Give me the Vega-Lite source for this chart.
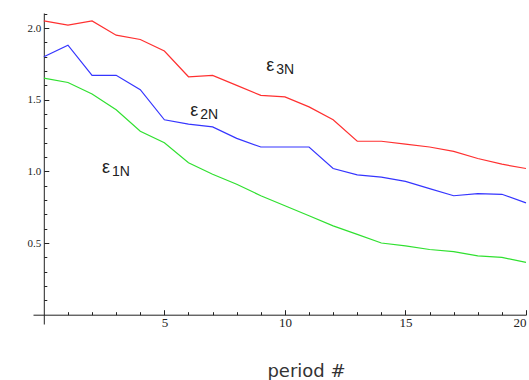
{
  "$schema": "https://vega.github.io/schema/vega-lite/v6.json",
  "width": 493,
  "height": 311,
  "autosize": {"type": "none"},
  "padding": {"left": 33, "top": 13, "right": 3, "bottom": 56},
  "background": "white",
  "config": {"view": {"stroke": null}, "axis": {"grid": false}},
  "resolve": {"axis": {"x": "independent", "y": "independent"}},
  "layer": [
    {
      "data": {"values": [
        {"period": 0, "eps": 2.05, "series": "e3"},
        {"period": 1, "eps": 2.02, "series": "e3"},
        {"period": 2, "eps": 2.05, "series": "e3"},
        {"period": 3, "eps": 1.95, "series": "e3"},
        {"period": 4, "eps": 1.92, "series": "e3"},
        {"period": 5, "eps": 1.84, "series": "e3"},
        {"period": 6, "eps": 1.66, "series": "e3"},
        {"period": 7, "eps": 1.67, "series": "e3"},
        {"period": 8, "eps": 1.6, "series": "e3"},
        {"period": 9, "eps": 1.53, "series": "e3"},
        {"period": 10, "eps": 1.52, "series": "e3"},
        {"period": 11, "eps": 1.45, "series": "e3"},
        {"period": 12, "eps": 1.36, "series": "e3"},
        {"period": 13, "eps": 1.21, "series": "e3"},
        {"period": 14, "eps": 1.21, "series": "e3"},
        {"period": 15, "eps": 1.19, "series": "e3"},
        {"period": 16, "eps": 1.17, "series": "e3"},
        {"period": 17, "eps": 1.14, "series": "e3"},
        {"period": 18, "eps": 1.09, "series": "e3"},
        {"period": 19, "eps": 1.05, "series": "e3"},
        {"period": 20, "eps": 1.02, "series": "e3"},
        {"period": 0, "eps": 1.8, "series": "e2"},
        {"period": 1, "eps": 1.88, "series": "e2"},
        {"period": 2, "eps": 1.67, "series": "e2"},
        {"period": 3, "eps": 1.67, "series": "e2"},
        {"period": 4, "eps": 1.57, "series": "e2"},
        {"period": 5, "eps": 1.36, "series": "e2"},
        {"period": 6, "eps": 1.33, "series": "e2"},
        {"period": 7, "eps": 1.31, "series": "e2"},
        {"period": 8, "eps": 1.23, "series": "e2"},
        {"period": 9, "eps": 1.17, "series": "e2"},
        {"period": 10, "eps": 1.17, "series": "e2"},
        {"period": 11, "eps": 1.17, "series": "e2"},
        {"period": 12, "eps": 1.02, "series": "e2"},
        {"period": 13, "eps": 0.975, "series": "e2"},
        {"period": 14, "eps": 0.96, "series": "e2"},
        {"period": 15, "eps": 0.93, "series": "e2"},
        {"period": 16, "eps": 0.88, "series": "e2"},
        {"period": 17, "eps": 0.83, "series": "e2"},
        {"period": 18, "eps": 0.845, "series": "e2"},
        {"period": 19, "eps": 0.84, "series": "e2"},
        {"period": 20, "eps": 0.78, "series": "e2"},
        {"period": 0, "eps": 1.65, "series": "e1"},
        {"period": 1, "eps": 1.62, "series": "e1"},
        {"period": 2, "eps": 1.54, "series": "e1"},
        {"period": 3, "eps": 1.43, "series": "e1"},
        {"period": 4, "eps": 1.28, "series": "e1"},
        {"period": 5, "eps": 1.2, "series": "e1"},
        {"period": 6, "eps": 1.06, "series": "e1"},
        {"period": 7, "eps": 0.98, "series": "e1"},
        {"period": 8, "eps": 0.91, "series": "e1"},
        {"period": 9, "eps": 0.83, "series": "e1"},
        {"period": 10, "eps": 0.76, "series": "e1"},
        {"period": 11, "eps": 0.69, "series": "e1"},
        {"period": 12, "eps": 0.62, "series": "e1"},
        {"period": 13, "eps": 0.56, "series": "e1"},
        {"period": 14, "eps": 0.5, "series": "e1"},
        {"period": 15, "eps": 0.48, "series": "e1"},
        {"period": 16, "eps": 0.455, "series": "e1"},
        {"period": 17, "eps": 0.44, "series": "e1"},
        {"period": 18, "eps": 0.41, "series": "e1"},
        {"period": 19, "eps": 0.4, "series": "e1"},
        {"period": 20, "eps": 0.365, "series": "e1"}
      ]},
      "mark": {"type": "line", "strokeWidth": 1.2},
      "encoding": {
        "x": {"field": "period", "type": "quantitative",
          "scale": {"domain": [-0.45, 20], "nice": false, "zero": false},
          "axis": {"orient": "bottom", "offset": -9.3, "values": [1,2,3,4,6,7,8,9,11,12,13,14,16,17,18,19],
            "tickSize": -3, "tickColor": "#222", "labels": false, "domain": false, "title": null}},
        "y": {"field": "eps", "type": "quantitative",
          "scale": {"domain": [-0.065, 2.105], "nice": false, "zero": false},
          "axis": {"orient": "left", "offset": -10.8, "values": [0.1,0.2,0.3,0.4,0.6,0.7,0.8,0.9,1.1,1.2,1.3,1.4,1.6,1.7,1.8,1.9,2.1],
            "tickSize": -3, "tickColor": "#222", "labels": false, "domain": false, "title": null}},
        "color": {"field": "series", "type": "nominal",
          "scale": {"domain": ["e1", "e2", "e3"], "range": ["#30e030", "#3535ff", "#ff3030"]},
          "legend": null}
      }
    },
    {
      "data": {"name": "labels", "values": [
        {"x": 9.39, "y": 1.738, "sym": "ε", "sub": "3N"},
        {"x": 6.24, "y": 1.424, "sym": "ε", "sub": "2N"},
        {"x": 2.58, "y": 1.026, "sym": "ε", "sub": "1N"}
      ]},
      "mark": {"type": "text", "fontSize": 18, "font": "Liberation Sans", "align": "center", "baseline": "middle", "color": "#222"},
      "encoding": {
        "x": {"field": "x", "type": "quantitative",
          "scale": {"domain": [-0.45, 20], "nice": false, "zero": false},
          "axis": {"orient": "bottom", "offset": -9.3, "values": [5, 10, 15, 20], "tickSize": -5, "tickColor": "#222",
            "domainColor": "#222", "labelFont": "Liberation Serif", "labelFontSize": 13, "labelColor": "#222",
            "labelPadding": 7, "labelBaseline": "top", "title": "period #", "titleFont": "DejaVu Sans", "titleFontSize": 18,
            "titleFontWeight": "normal", "titleColor": "#333", "titleX": 273, "titleY": 62, "titleAlign": "center",
            "titleBaseline": "alphabetic"}},
        "y": {"field": "y", "type": "quantitative",
          "scale": {"domain": [-0.065, 2.105], "nice": false, "zero": false},
          "axis": {"orient": "left", "offset": -10.8, "values": [0.5, 1, 1.5, 2], "format": ".1f", "tickSize": -5, "tickColor": "#222",
            "domainColor": "#222", "labelFont": "Liberation Serif", "labelFontSize": 11, "labelColor": "#222",
            "labelPadding": 8, "title": null}},
        "text": {"field": "sym"}
      }
    },
    {
      "data": {"name": "labels"},
      "mark": {"type": "text", "fontSize": 14, "font": "Liberation Sans", "align": "left", "baseline": "middle", "dx": 6, "dy": 4, "color": "#222"},
      "encoding": {
        "x": {"field": "x", "type": "quantitative", "scale": {"domain": [-0.45, 20], "nice": false, "zero": false}, "axis": null},
        "y": {"field": "y", "type": "quantitative", "scale": {"domain": [-0.065, 2.105], "nice": false, "zero": false}, "axis": null},
        "text": {"field": "sub"}
      }
    }
  ]
}
